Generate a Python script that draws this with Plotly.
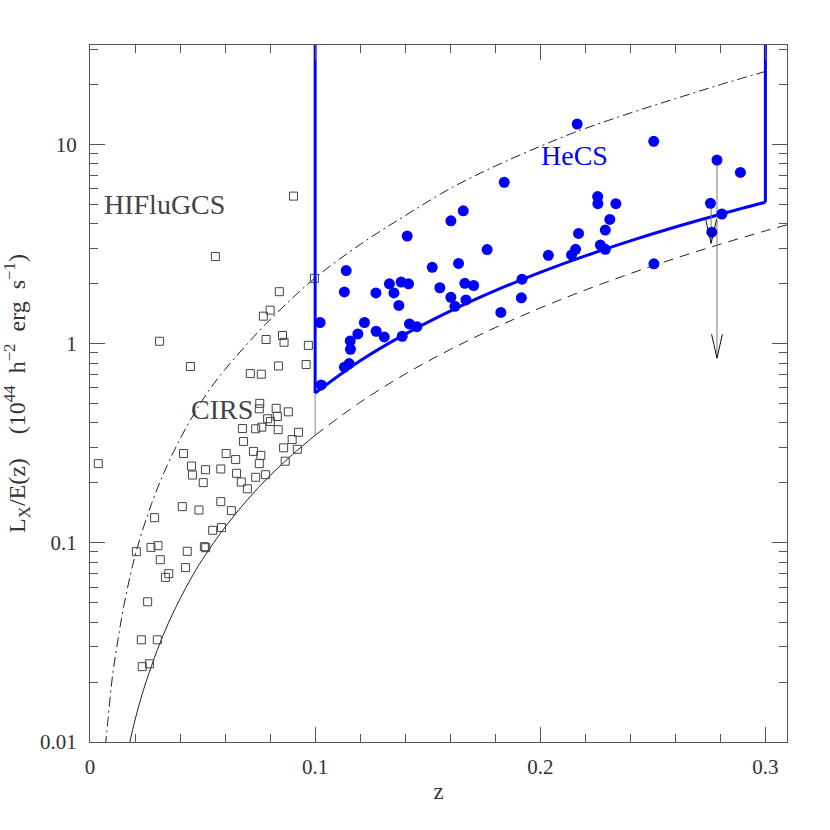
import plotly.graph_objects as go

# ---------------- data ----------------
# open squares (HIFLUGCS + CIRS clusters)
sq_z = [0.0904, 0.0557, 0.0997, 0.0841, 0.0800, 0.0770, 0.0309, 0.0782, 0.0855, 0.0862,
        0.0970, 0.0446, 0.0837, 0.0960, 0.0712, 0.0761, 0.0754, 0.0752, 0.0827, 0.0881,
        0.0832, 0.0789, 0.0801, 0.0677, 0.0736, 0.0763, 0.0836, 0.0926, 0.0898, 0.0682,
        0.0860, 0.0921, 0.0415, 0.0605, 0.0647, 0.0726, 0.0759, 0.0867, 0.0752, 0.0037,
        0.0451, 0.0513, 0.0581, 0.0455, 0.0651, 0.0780, 0.0736, 0.0503, 0.0672, 0.0699,
        0.0410, 0.0484, 0.0581, 0.0628, 0.0287, 0.0545, 0.0584, 0.0206, 0.0271, 0.0302,
        0.0432, 0.0508, 0.0514, 0.0312, 0.0424, 0.0335, 0.0350, 0.0256, 0.0228, 0.0299,
        0.0232, 0.0264]
sq_L = [5.51, 2.74, 2.13, 1.825, 1.474, 1.375, 1.029, 1.05, 1.10, 1.017,
        0.981, 0.768, 0.773, 0.786, 0.708, 0.703, 0.502, 0.471, 0.474, 0.455,
        0.431, 0.420, 0.407, 0.375, 0.374, 0.381, 0.370, 0.359, 0.330, 0.323,
        0.300, 0.295, 0.281, 0.281, 0.262, 0.288, 0.275, 0.257, 0.250, 0.250,
        0.243, 0.233, 0.235, 0.219, 0.2235, 0.220, 0.2134, 0.2007, 0.2021, 0.1868,
        0.152, 0.1462, 0.161, 0.1451, 0.1338, 0.1156, 0.1193, 0.0903, 0.0949, 0.0968,
        0.0907, 0.0957, 0.0946, 0.0823, 0.0751, 0.0671, 0.070, 0.0506, 0.0326, 0.0326,
        0.0239, 0.0247]

# filled blue circles (HeCS clusters)
hecs_z = [0.1840, 0.1658, 0.1603, 0.1409, 0.1764, 0.1138, 0.1520, 0.1637, 0.1130, 0.1270,
          0.1330, 0.1350, 0.1382, 0.1415, 0.1372, 0.1554, 0.1603, 0.1621, 0.1665, 0.1704,
          0.1670, 0.1919, 0.1916, 0.1825, 0.2036, 0.1022, 0.1219, 0.1190, 0.1156, 0.1157,
          0.1271, 0.1307, 0.1387, 0.1419, 0.1452, 0.1130, 0.1151, 0.1027,
          0.2164, 0.2504, 0.2785, 0.2889, 0.2255, 0.2256, 0.2336, 0.2756, 0.2309, 0.2807,
          0.2170, 0.2289, 0.2762, 0.2139, 0.2157, 0.2267, 0.2289, 0.2505]
hecs_L = [6.46, 4.65, 4.14, 3.47, 2.97, 2.33, 2.42, 2.53, 1.82, 1.80,
          2.00, 1.80, 2.04, 2.00, 1.556, 1.91, 1.71, 1.54, 2.01, 1.96,
          1.66, 2.11, 1.70, 1.435, 2.78, 1.278, 1.278, 1.12, 1.033, 0.938,
          1.155, 1.082, 1.09, 1.257, 1.217, 0.762, 0.795, 0.621,
          12.68, 10.38, 8.36, 7.25, 5.48, 5.05, 5.05, 5.07, 4.21, 4.48,
          3.58, 3.72, 3.63, 2.79, 2.98, 3.13, 2.98, 2.52]

# upper limits (arrows)
ul_z = [0.2785, 0.2759]
ul_top = [8.36, 5.07]
ul_bot = [0.846, 3.19]

# CIRS flux limit (solid below z=0.1, dashed above)
lim_z = [0.0175, 0.02, 0.0225, 0.025, 0.03, 0.035, 0.04, 0.045, 0.05, 0.06, 0.07, 0.08, 0.09, 0.10]
lim_L = [0.0098, 0.0129, 0.0164, 0.0202, 0.0292, 0.0400, 0.0524, 0.0667, 0.0827, 0.120, 0.165, 0.218, 0.278, 0.347]
dash_z = [0.10, 0.12, 0.14, 0.16, 0.18, 0.20, 0.22, 0.24, 0.26, 0.28, 0.30, 0.31]
dash_L = [0.347, 0.508, 0.704, 0.935, 1.204, 1.512, 1.860, 2.250, 2.683, 3.161, 3.686, 3.966]

# HIFLUGCS flux limit (dash-dot)
dd_z = [0.0068, 0.008, 0.01, 0.0125, 0.015, 0.02, 0.0274, 0.035, 0.0444, 0.055, 0.0726, 0.085,
        0.10, 0.12, 0.14, 0.161, 0.18, 0.20, 0.216, 0.24, 0.26, 0.28, 0.30]
dd_L = [0.0095, 0.0130, 0.0215, 0.033, 0.048, 0.086, 0.158, 0.255, 0.410, 0.63, 1.08, 1.50,
        2.14, 3.15, 4.4, 6.1, 7.8, 9.8, 11.6, 14.4, 17.0, 20.0, 23.3]

# HeCS selection boundary (thick blue)
blue_z = [0.10, 0.12, 0.14, 0.16, 0.18, 0.20, 0.22, 0.24, 0.26, 0.28, 0.30]
blue_L = [0.565, 0.821, 1.117, 1.459, 1.847, 2.28, 2.759, 3.283, 3.853, 4.469, 5.13]

x_ticks = [0, 0.1, 0.2, 0.3]
x_ticktext = ["0", "0.1", "0.2", "0.3"]
y_ticks = [0.01, 0.1, 1, 10]
y_ticktext = ["0.01", "0.1", "1", "10"]
y_minor = [m * d for d in (0.01, 0.1, 1, 10) for m in range(2, 10) if m * d < 32]

X_RANGE = [0, 0.3096]
Y_RANGE = [-2, 1.5]

# ---------------- figure ----------------
BLUE = "#0000ff"
AX = "#555555"
FONT = "Liberation Serif"
SP = "\u2002"

fig = go.Figure()

# flux-limit curves
fig.add_trace(go.Scatter(x=dd_z, y=dd_L, mode="lines", line=dict(color="#222", width=1, dash="10px,4px,2px,4px", shape="spline"), hoverinfo="skip"))
fig.add_trace(go.Scatter(x=lim_z, y=lim_L, mode="lines", line=dict(color="#222", width=1, shape="spline"), hoverinfo="skip"))
fig.add_trace(go.Scatter(x=dash_z, y=dash_L, mode="lines", line=dict(color="#222", width=1, dash="10px,7px", shape="spline"), hoverinfo="skip"))

# gray connector at z=0.1 between the CIRS limit and the HeCS boundary
fig.add_trace(go.Scatter(x=[lim_z[-1], blue_z[0]], y=[lim_L[-1], blue_L[0]], mode="lines",
                         line=dict(color="#888", width=1), hoverinfo="skip"))

# open squares
fig.add_trace(go.Scatter(x=sq_z, y=sq_L, mode="markers",
                         marker=dict(symbol="square-open", size=8, color="#444", line=dict(width=1)),
                         hoverinfo="skip"))

# HeCS box
y_top = 10 ** (Y_RANGE[1] + 0.5)
fig.add_trace(go.Scatter(x=[blue_z[0], blue_z[0], None, blue_z[-1], blue_z[-1]],
                         y=[y_top, blue_L[0], None, blue_L[-1], y_top], mode="lines",
                         line=dict(color=BLUE, width=3), hoverinfo="skip"))
fig.add_trace(go.Scatter(x=blue_z, y=blue_L, mode="lines",
                         line=dict(color=BLUE, width=3, shape="spline"), hoverinfo="skip"))

# arrow shafts
sx, sy = [], []
for z, t, b in zip(ul_z, ul_top, ul_bot):
    sx += [z, z, None]
    sy += [t, b, None]
fig.add_trace(go.Scatter(x=sx, y=sy, mode="lines", line=dict(color="#777", width=1), hoverinfo="skip"))

# HeCS points
fig.add_trace(go.Scatter(x=hecs_z, y=hecs_L, mode="markers",
                         marker=dict(symbol="circle", size=11, color=BLUE, line=dict(width=0)),
                         hoverinfo="skip"))

# arrow heads (open V)
HEAD_DEX = 0.12
HEAD_HW = 0.0024
hx, hy = [], []
for z, b in zip(ul_z, ul_bot):
    hx += [z - HEAD_HW, z, z + HEAD_HW, None]
    hy += [b * 10 ** HEAD_DEX, b, b * 10 ** HEAD_DEX, None]
fig.add_trace(go.Scatter(x=hx, y=hy, mode="lines", line=dict(color="#111", width=1), hoverinfo="skip"))

# labels
fig.add_annotation(x=0.0333, y=0.701, xref="x", yref="y", text="HIFluGCS", showarrow=False,
                   font=dict(family=FONT, size=28, color="#444"))
fig.add_annotation(x=0.0587, y=-0.329, xref="x", yref="y", text="CIRS", showarrow=False,
                   font=dict(family=FONT, size=28, color="#444"))
fig.add_annotation(x=0.2153, y=0.947, xref="x", yref="y", text="HeCS", showarrow=False,
                   font=dict(family=FONT, size=28, color=BLUE))

axis_common = dict(showgrid=False, zeroline=False, showline=True, linecolor=AX, linewidth=1,
                   mirror="allticks", ticks="inside", ticklen=15, tickcolor=AX, tickwidth=1,
                   tickfont=dict(family=FONT, size=21, color="#333"))

fig.update_xaxes(range=X_RANGE, tickvals=x_ticks, ticktext=x_ticktext, ticklabelstandoff=6,
                 minor=dict(ticks="inside", ticklen=8, tickcolor=AX, dtick=0.02, tick0=0, showgrid=False),
                 title=dict(text="z", font=dict(family=FONT, size=23, color="#333"), standoff=4),
                 **axis_common)
fig.update_yaxes(type="log", range=Y_RANGE, tickvals=y_ticks, ticktext=y_ticktext, ticklabelstandoff=8,
                 minor=dict(ticks="inside", ticklen=8, tickcolor=AX, tickvals=y_minor, showgrid=False),
                 title=dict(text=f"L<sub>X</sub>/E(z){SP}{SP}(10<sup>44</sup>{SP}h<sup>\u22122</sup>{SP}erg{SP}s<sup>\u22121</sup>)",
                            font=dict(family=FONT, size=24, color="#333"), standoff=10),
                 **axis_common)

fig.update_layout(width=830, height=830, margin=dict(l=90, r=43, t=45, b=88),
                  plot_bgcolor="white", paper_bgcolor="white", showlegend=False)

fig.write_html("out.html", config={"displayModeBar": False},
               post_script="document.body.style.margin='0px';")
